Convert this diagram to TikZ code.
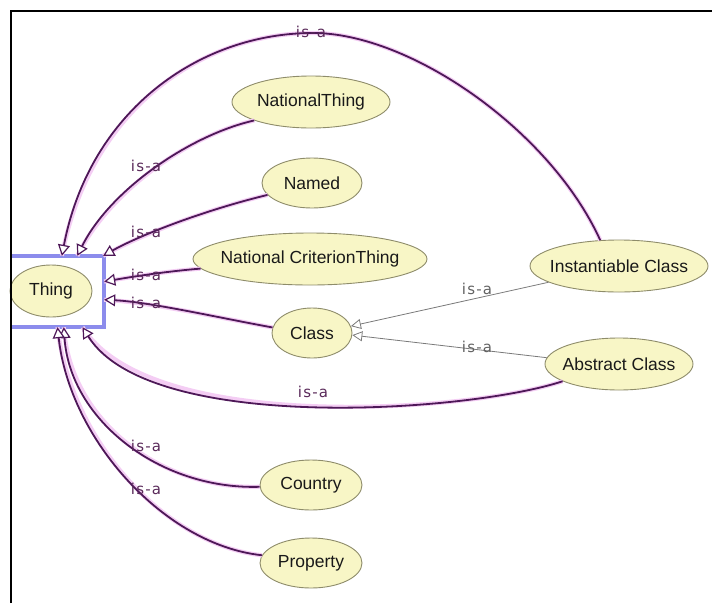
\documentclass[tikz,border=0pt]{standalone}
\usepackage{fontspec}
\setmainfont{Liberation Sans}
\newfontfamily\edgefont[LetterSpace=8]{DejaVu Sans}
\usetikzlibrary{shapes.geometric,arrows.meta}

\definecolor{classfill}{HTML}{F8F6C6}
\definecolor{classline}{HTML}{8E8C6A}
\definecolor{isapurple}{HTML}{4E1858}
\definecolor{isaglow}{HTML}{F4CDF4}
\definecolor{isatext}{HTML}{5A2A5A}
\definecolor{subgray}{HTML}{7A7A7A}
\definecolor{selblue}{HTML}{8C8CEC}

% class name centred without widening its ellipse
\newcommand{\clsname}[1]{\makebox[0pt]{#1}}

\begin{document}
\begin{tikzpicture}[x=1pt,y=-1pt,
  cls/.style={ellipse, draw=classline, line width=0.9pt, fill=classfill,
    inner sep=0pt, font=\fontsize{17.5}{17.5}\selectfont, text=black!90},
  isa/.style={draw=isapurple, line width=1.8pt,
    -{Triangle[length=11pt,width=12pt,line width=1.2pt,fill=white]},
    preaction={draw=isaglow, line width=4.2pt, -}},
  sub/.style={draw=subgray, line width=0.8pt,
    -{Triangle[length=10pt,width=10pt,fill=white]}},
  isalbl/.style={font=\edgefont\fontsize{15}{15}\selectfont, text=isatext, inner sep=0pt},
  sublbl/.style={isalbl, text=subgray!80!black},
]
\useasboundingbox (0,0) rectangle (712,603);
\fill[white] (0,0) rectangle (712,603);

% classes
\node[cls, minimum width=82pt,  minimum height=52pt] (thing)    at (51,291)  {\clsname{Thing}};
\node[cls, minimum width=158pt, minimum height=52pt] (nt)       at (311,102) {\clsname{NationalThing}};
\node[cls, minimum width=100pt, minimum height=50pt] (named)    at (312,183) {\clsname{Named}};
\node[cls, minimum width=234pt, minimum height=52pt] (nct)      at (310,259) {\clsname{National CriterionThing}};
\node[cls, minimum width=80pt,  minimum height=50pt] (classnode) at (312,333) {\clsname{Class}};
\node[cls, minimum width=178pt, minimum height=52pt] (ic)       at (619,266) {\clsname{Instantiable Class}};
\node[cls, minimum width=148pt, minimum height=52pt] (ac)       at (619,364) {\clsname{Abstract Class}};
\node[cls, minimum width=102pt, minimum height=50pt] (country)  at (311,485) {\clsname{Country}};
\node[cls, minimum width=102pt, minimum height=50pt] (property) at (311,563) {\clsname{Property}};

% selection box around Thing
\node[inner sep=0pt, minimum width=93pt, minimum height=71pt] (sel) at (57.5,291.5) {};
\draw[selblue, line width=3.5pt] (sel.north west) -- (sel.north east)
  -- (sel.south east) -- (sel.south west);

% is-a links to Thing
\coordinate (arctop) at (313,33);
\draw[isa] (ic.126) .. controls (550,130) and (410,33) .. (arctop)
  .. controls (200,33) and (90,110) .. (sel.83);
\draw[isa] (nt.198) .. controls (190,135) and (110,190) .. (sel.61);
\draw[isa] (named.195) .. controls (205,210) and (140,235) .. (sel.38);
\draw[isa] (nct.185) .. controls (160,272) and (125,278) .. (sel.12);
\draw[isa] (classnode.172) .. controls (220,318) and (150,302) .. (sel.-10);
\draw[isa] (ac.197) .. controls (470,412) and (150,435) .. (sel.-55);
\draw[isa] (country.182) .. controls (160,490) and (70,420) .. (sel.-80);
\draw[isa] (property.171) .. controls (165,545) and (70,440) .. (sel.-90);

% is-a links to Class
\draw[sub] (ic.193) -- (classnode.10);
\draw[sub] (ac.175) -- (classnode.-3);

% link labels
\node[isalbl] (l1) at (311,32)  {is-a};
\node[isalbl] (l2) at (146,166) {is-a};
\node[isalbl] (l3) at (146,232) {is-a};
\node[isalbl] (l4) at (146,275) {is-a};
\node[isalbl] (l5) at (146,303) {is-a};
\node[isalbl] (l6) at (313,392) {is-a};
\node[isalbl] (l7) at (146,446) {is-a};
\node[isalbl] (l8) at (146,489) {is-a};
\node[sublbl] (l9) at (477,289) {is-a};
\node[sublbl] (l10) at (477,347) {is-a};

% panel frame
\draw[black, line width=2pt] (11,603) -- (11,11) -- (712,11);
\end{tikzpicture}
\end{document}
